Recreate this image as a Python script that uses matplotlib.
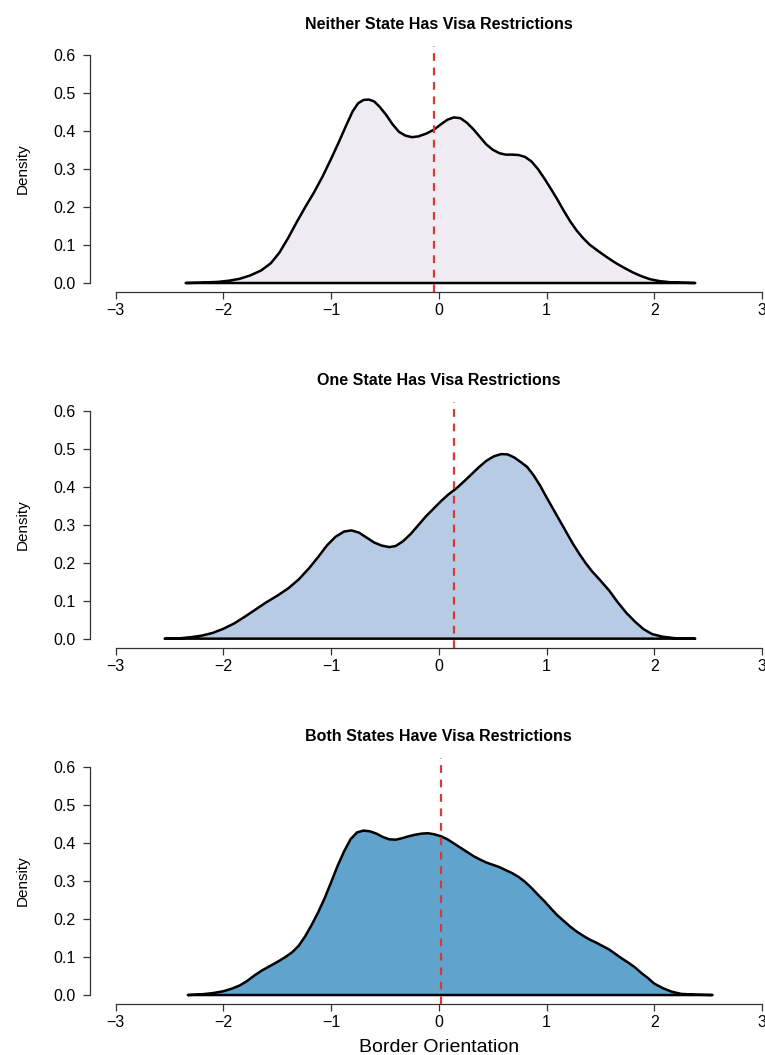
import numpy as np
import matplotlib
matplotlib.use("Agg")
import matplotlib.pyplot as plt

plt.rcParams['font.family'] = ['Liberation Sans', 'DejaVu Sans']

# density curves (x = border orientation, y = density)
x_neither = [-2.35, -2.2, -2.05, -1.95, -1.85, -1.75, -1.65, -1.56, -1.48, -1.40,
             -1.32, -1.24, -1.16, -1.08, -1.0, -0.93, -0.86, -0.80, -0.75, -0.70,
             -0.65, -0.60, -0.55, -0.49, -0.43, -0.37, -0.31, -0.25, -0.19, -0.12,
             -0.05, 0.02, 0.08, 0.14, 0.20, 0.26, 0.32, 0.38, 0.44, 0.50,
             0.56, 0.62, 0.68, 0.74, 0.80, 0.86, 0.92, 0.98, 1.04, 1.10,
             1.16, 1.22, 1.28, 1.34, 1.40, 1.48, 1.56, 1.64, 1.72, 1.80,
             1.88, 1.96, 2.05, 2.15, 2.25, 2.38]
y_neither = [0.0, 0.001, 0.003, 0.006, 0.011, 0.02, 0.033, 0.052, 0.08, 0.118,
             0.16, 0.2, 0.238, 0.28, 0.327, 0.37, 0.415, 0.452, 0.473, 0.482,
             0.483, 0.478, 0.464, 0.443, 0.418, 0.398, 0.388, 0.384, 0.386, 0.393,
             0.403, 0.418, 0.43, 0.436, 0.434, 0.422, 0.405, 0.385, 0.365, 0.351,
             0.342, 0.338, 0.338, 0.337, 0.332, 0.32, 0.3, 0.275, 0.248, 0.22,
             0.19, 0.162, 0.138, 0.118, 0.101, 0.084, 0.068, 0.053, 0.04, 0.028,
             0.018, 0.01, 0.005, 0.002, 0.001, 0.0]

x_one = [-2.545, -2.4, -2.3, -2.2, -2.1, -2.0, -1.9, -1.8, -1.7, -1.6,
         -1.5, -1.4, -1.3, -1.2, -1.12, -1.04, -0.96, -0.88, -0.81, -0.74,
         -0.67, -0.6, -0.53, -0.46, -0.40, -0.33, -0.26, -0.19, -0.12, -0.05,
         0.02, 0.09, 0.16, 0.23, 0.30, 0.37, 0.44, 0.51, 0.58, 0.64,
         0.70, 0.76, 0.82, 0.88, 0.94, 1.0, 1.06, 1.12, 1.18, 1.24,
         1.30, 1.36, 1.42, 1.50, 1.58, 1.66, 1.74, 1.82, 1.90, 1.98,
         2.08, 2.2, 2.38]
y_one = [0.0, 0.001, 0.004, 0.008, 0.015, 0.026, 0.04, 0.058, 0.077, 0.096,
         0.113, 0.132, 0.156, 0.187, 0.215, 0.245, 0.268, 0.282, 0.285, 0.279,
         0.266, 0.253, 0.245, 0.241, 0.244, 0.257, 0.276, 0.299, 0.322, 0.342,
         0.362, 0.38, 0.395, 0.413, 0.432, 0.451, 0.468, 0.48, 0.486, 0.485,
         0.477, 0.465, 0.452, 0.43, 0.403, 0.372, 0.342, 0.312, 0.282, 0.252,
         0.225, 0.2, 0.178, 0.153, 0.127, 0.096, 0.068, 0.045, 0.025, 0.012,
         0.005, 0.001, 0.0]

x_both = [-2.33, -2.2, -2.1, -2.0, -1.92, -1.85, -1.78, -1.71, -1.64, -1.57,
          -1.50, -1.43, -1.36, -1.30, -1.24, -1.18, -1.12, -1.06, -1.0, -0.94,
          -0.88, -0.82, -0.76, -0.70, -0.64, -0.58, -0.52, -0.46, -0.40, -0.34,
          -0.28, -0.22, -0.16, -0.10, -0.04, 0.02, 0.08, 0.14, 0.20, 0.26,
          0.32, 0.38, 0.44, 0.50, 0.56, 0.62, 0.68, 0.74, 0.80, 0.86,
          0.92, 0.98, 1.04, 1.10, 1.16, 1.22, 1.28, 1.34, 1.40, 1.46,
          1.52, 1.58, 1.64, 1.70, 1.76, 1.82, 1.88, 1.94, 2.00, 2.08,
          2.16, 2.25, 2.38, 2.54]
y_both = [0.0, 0.002, 0.005, 0.01, 0.017, 0.025, 0.037, 0.052, 0.065, 0.076,
          0.087, 0.099, 0.113, 0.13, 0.155, 0.185, 0.218, 0.255, 0.297, 0.34,
          0.378, 0.41, 0.428, 0.433, 0.431, 0.425, 0.416, 0.41, 0.409, 0.413,
          0.418, 0.422, 0.425, 0.426, 0.423, 0.418, 0.41, 0.399, 0.388, 0.377,
          0.366, 0.357, 0.349, 0.343, 0.337, 0.329, 0.321, 0.311, 0.298, 0.282,
          0.264, 0.247, 0.228, 0.21, 0.195, 0.18, 0.167, 0.156, 0.146, 0.138,
          0.129, 0.12, 0.108, 0.096, 0.085, 0.073, 0.058, 0.045, 0.03, 0.018,
          0.009, 0.003, 0.001, 0.0]

titles = ["Neither State Has Visa Restrictions",
          "One State Has Visa Restrictions",
          "Both States Have Visa Restrictions"]
fills = ["#EEEBF3", "#B8CBE4", "#60A4CE"]
means = [-0.045, 0.14, 0.02]
curves = [(x_neither, y_neither), (x_one, y_one), (x_both, y_both)]

x_ticks = [-3, -2, -1, 0, 1, 2, 3]
y_ticks = [0.0, 0.1, 0.2, 0.3, 0.4, 0.5, 0.6]

fig = plt.figure(figsize=(7.65, 10.55), dpi=100)
bottoms = [0.7231, 0.3860, 0.0482]

for i in range(3):
    ax = fig.add_axes([0.1174, bottoms[i], 0.9125, 0.2333])
    xs, ys = curves[i]
    ax.fill(xs, ys, facecolor=fills[i], edgecolor="black", lw=1.8, joinstyle="round")
    ax.axvline(means[i], color="#D63A35", lw=1.6, ls=(0, (3.5, 3)))

    ax.set_xlim(-3.24, 3.24)
    ax.set_ylim(-0.024, 0.624)
    ax.spines[["top", "right"]].set_visible(False)
    ax.spines["left"].set_bounds(0, 0.6)
    ax.spines["bottom"].set_bounds(-3, 3)
    for s in ["left", "bottom"]:
        ax.spines[s].set_linewidth(0.9)
        ax.spines[s].set_color("#333333")
    ax.set_xticks(x_ticks)
    ax.set_xticklabels(["\u22123", "\u22122", "\u22121", "0", "1", "2", "3"])
    ax.set_yticks(y_ticks)
    ax.set_yticklabels([f"{v:.1f}" for v in y_ticks])
    ax.tick_params(length=5, width=0.9, color="#333333", labelsize=11.5)
    ax.tick_params(axis="y", pad=5)
    ax.tick_params(axis="x", pad=3)
    ax.set_ylabel("Density", fontsize=11, labelpad=17)
    ax.set_title(titles[i], fontsize=11.5, fontweight="bold", pad=12)
    ax.patch.set_alpha(0)

ax.set_xlabel("Border Orientation", fontsize=14, labelpad=6)

fig.savefig("out.png", dpi=100)
